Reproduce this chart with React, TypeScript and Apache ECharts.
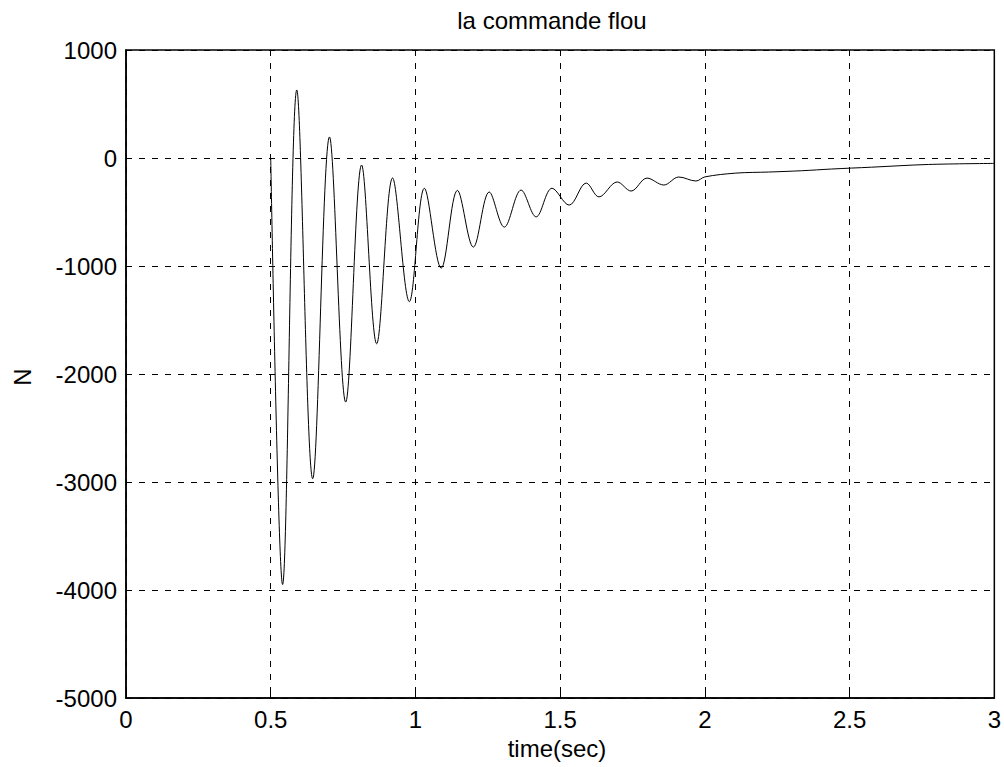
import React, { useEffect, useRef } from "react";
import * as echarts from "echarts";

const titleText = "la commande flou";
const xAxisName = "time(sec)";
const yAxisName = "N";

const timeSec = [0.5, 0.541, 0.59, 0.645, 0.703, 0.759, 0.814, 0.866, 0.921, 0.979, 1.031, 1.089, 1.145, 1.2, 1.255, 1.307, 1.365, 1.417, 1.472, 1.531, 1.59, 1.634, 1.697, 1.745, 1.8, 1.858, 1.91, 1.969, 2.0, 2.107, 2.22, 2.334, 2.438, 2.576, 2.772, 3.0];
const command = [0, -3950, 630, -2970, 195, -2260, -65, -1720, -185, -1330, -280, -1020, -300, -825, -315, -640, -297, -545, -280, -436, -232, -360, -222, -306, -186, -250, -176, -213, -175, -140, -130, -118, -102, -85, -60, -50];

const xMin = 0, xMax = 3, xStep = 0.5;
const yMin = -5000, yMax = 1000, yStep = 1000;

const FONT = "Liberation Sans, Arial, sans-serif";

export default function App() {
  const ref = useRef<HTMLDivElement>(null);
  useEffect(() => {
    if (!ref.current) return;
    const chart = echarts.init(ref.current, null, { renderer: "svg" });
    const data = timeSec.map((t, i) => [t, command[i]]);
    const dashed = { show: true, lineStyle: { color: "#000", width: 1, type: [6, 7] as any } };
    chart.setOption({
      animation: false,
      backgroundColor: "#fff",
      grid: { left: 126, top: 50, width: 870, height: 648, show: true, borderColor: "#000", borderWidth: 1.5, backgroundColor: "transparent" },
      xAxis: {
        type: "value", min: xMin, max: xMax, interval: xStep,
        axisLine: { show: true, onZero: false, lineStyle: { color: "#000", width: 1.5 } },
        axisTick: { show: true, inside: true, length: 5, lineStyle: { color: "#000" } },
        axisLabel: { color: "#000", fontSize: 24, fontFamily: FONT, margin: 9, formatter: (v: number) => String(v) },
        splitLine: dashed,
      },
      yAxis: {
        type: "value", min: yMin, max: yMax, interval: yStep,
        axisLine: { show: true, onZero: false, lineStyle: { color: "#000", width: 1.5 } },
        axisTick: { show: true, inside: true, length: 5, lineStyle: { color: "#000" } },
        axisLabel: { color: "#000", fontSize: 24, fontFamily: FONT, margin: 9, formatter: (v: number) => String(v) },
        splitLine: dashed,
      },
      series: [{
        type: "line", data, showSymbol: false, smooth: 0.35,
        lineStyle: { color: "#000", width: 1 },
      }],
      graphic: [
        { type: "text", x: 552, y: 20, style: { text: titleText, font: `24px ${FONT}`, fill: "#000", align: "center", verticalAlign: "middle" } },
        { type: "text", x: 557, y: 748, style: { text: xAxisName, font: `24px ${FONT}`, fill: "#000", align: "center", verticalAlign: "middle" } },
        { type: "text", x: 22, y: 377, rotation: Math.PI / 2, style: { text: yAxisName, font: `24px ${FONT}`, fill: "#000", align: "center", verticalAlign: "middle" } },
      ],
    });
    return () => chart.dispose();
  }, []);
  return <div ref={ref} style={{ position: "fixed", left: 0, top: 0, width: 1004, height: 767 }} />;
}
